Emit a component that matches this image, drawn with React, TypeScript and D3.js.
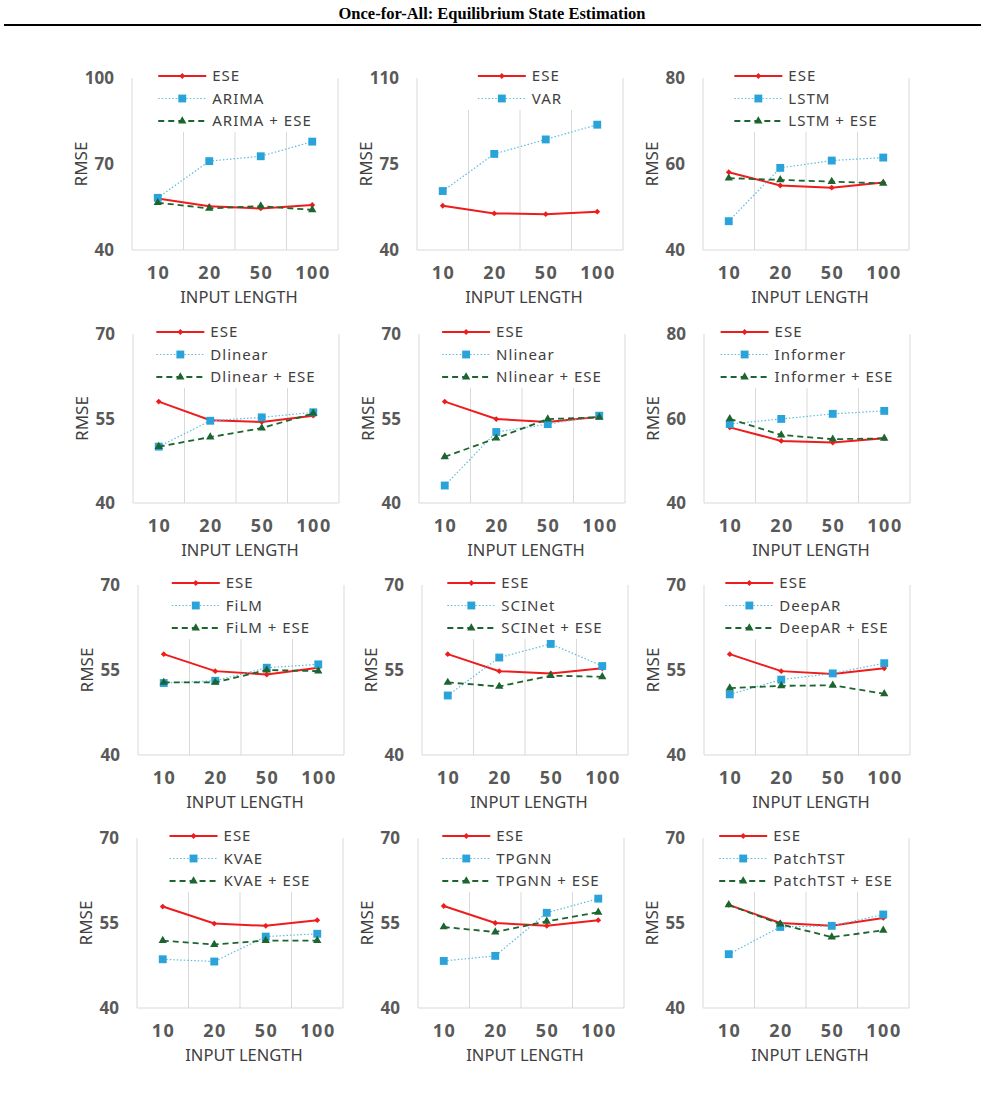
import * as d3 from "d3";

const inputLengths = ["10", "20", "50", "100"];

const baseModels = [
  "ARIMA", "VAR", "LSTM",
  "Dlinear", "Nlinear", "Informer",
  "FiLM", "SCINet", "DeepAR",
  "KVAE", "TPGNN", "PatchTST",
];

const yTickValues = [
  [40, 70, 100], [40, 75, 110], [40, 60, 80],
  [40, 55, 70], [40, 55, 70], [40, 60, 80],
  [40, 55, 70], [40, 55, 70], [40, 55, 70],
  [40, 55, 70], [40, 55, 70], [40, 55, 70],
];

// RMSE of ESE alone, per panel
const eseRmse = [
  [58.0, 55.3, 54.5, 55.7], [58.0, 54.9, 54.6, 55.6], [58.1, 55.0, 54.5, 55.7],
  [58.0, 54.7, 54.4, 55.5], [58.0, 54.9, 54.4, 55.3], [57.9, 54.7, 54.3, 55.3],
  [57.8, 54.8, 54.2, 55.4], [57.8, 54.8, 54.4, 55.3], [57.8, 54.8, 54.3, 55.3],
  [57.9, 54.9, 54.5, 55.5], [58.0, 55.0, 54.5, 55.5], [58.2, 55.0, 54.5, 55.9],
];

// RMSE of the baseline model
const baseRmse = [
  [58.2, 71.0, 72.7, 77.8], [64.0, 79.1, 85.0, 91.0], [46.7, 59.1, 60.8, 61.5],
  [50.0, 54.6, 55.2, 56.1], [43.1, 52.6, 54.0, 55.5], [58.7, 59.9, 61.1, 61.8],
  [52.7, 53.1, 55.4, 56.0], [50.5, 57.2, 59.6, 55.7], [50.7, 53.3, 54.4, 56.2],
  [48.6, 48.2, 52.6, 53.1], [48.3, 49.2, 56.8, 59.3], [49.5, 54.3, 54.5, 56.5],
];

// RMSE of baseline + ESE (none for VAR)
const comboRmse: (number[] | null)[] = [
  [56.5, 54.5, 55.3, 54.0], null, [56.7, 56.3, 55.9, 55.5],
  [50.0, 51.7, 53.3, 55.9], [48.2, 51.5, 54.9, 55.2], [59.9, 56.1, 55.1, 55.3],
  [52.8, 52.8, 55.0, 54.8], [52.8, 52.1, 54.0, 53.8], [51.8, 52.2, 52.3, 50.8],
  [51.9, 51.2, 51.9, 51.9], [54.3, 53.4, 55.3, 56.9], [58.2, 54.8, 52.5, 53.7],
];

const rowBands = [[78, 250], [334, 503], [585, 755], [838, 1008]];
const colLefts = [[132, 417, 703], [133, 419, 704], [138, 422, 704], [137, 418, 703]];
const plotW = 206;

const RED = "#ee1c1c";
const BLUE = "#2aa3da";
const BLUE_LINE = "#5dbbe0";
const GREEN = "#1c6530";
const GRID = "#d9d9d9";
const FONT = "'Noto Sans', 'DejaVu Sans', sans-serif";

let ctx: CanvasRenderingContext2D | null = null;
function textWidth(s: string, font: string, ls: number) {
  if (!ctx) ctx = document.createElement("canvas").getContext("2d");
  if (!ctx) return s.length * 8;
  ctx.font = font;
  return ctx.measureText(s).width + ls * s.length;
}

const styles = {
  ese: { color: RED, width: 2, dash: null, sym: d3.symbolDiamond2, size: 22 },
  base: { color: BLUE_LINE, width: 1.2, dash: "1.5 2", sym: d3.symbolSquare, size: 62 },
  combo: { color: GREEN, width: 1.8, dash: "6 4", sym: d3.symbolTriangle, size: 30 },
};
const fills = { ese: RED, base: BLUE, combo: GREEN };

function Panel({ i }: { i: number }) {
  const r = Math.floor(i / 3);
  const c = i % 3;
  const [top, bottom] = rowBands[r];
  const left = colLefts[r][c];
  const right = left + plotW;
  const ticks = yTickValues[i];

  const x = d3.scaleBand().domain(inputLengths).range([left, right]);
  const y = d3.scaleLinear().domain([ticks[0], ticks[ticks.length - 1]]).range([bottom, top]);
  const cx = (k: number) => (x(inputLengths[k]) as number) + x.bandwidth() / 2;
  const line = d3.line<number>().x((_, k) => cx(k)).y((v) => y(v));

  const series: { name: string; values: number[]; kind: "ese" | "base" | "combo" }[] = [
    { name: "ESE", values: eseRmse[i], kind: "ese" },
    { name: baseModels[i], values: baseRmse[i], kind: "base" },
  ];
  const combo = comboRmse[i];
  if (combo) series.push({ name: baseModels[i] + " + ESE", values: combo, kind: "combo" });

  const legendFont = `15px ${FONT}`;
  const maxText = d3.max(series, (s) => textWidth(s.name, legendFont, 1)) as number;
  const blockW = 48 + 6 + maxText;
  const lx = left + (plotW - blockW) / 2;
  const gridTop = top + 22 * series.length - 12;

  return (
    <g>
      {/* outer frame lines */}
      <line x1={left} x2={left} y1={top} y2={bottom} stroke={GRID} />
      <line x1={right} x2={right} y1={top} y2={bottom} stroke={GRID} />
      {inputLengths.slice(1).map((d) => (
        <line key={d} x1={x(d)} x2={x(d)} y1={gridTop} y2={bottom} stroke={GRID} />
      ))}
      <line x1={left} x2={right} y1={bottom} y2={bottom} stroke={GRID} />

      {ticks.map((t) => (
        <text key={t} x={left - 18} y={y(t)} dy="0.36em" textAnchor="end"
          fontSize={17} fontWeight="bold" fill="#595959" fontFamily={FONT}>{t}</text>
      ))}
      {inputLengths.map((d, k) => (
        <text key={d} x={cx(k) + 0.8} y={bottom + 29} textAnchor="middle"
          fontSize={18} fontWeight="bold" fill="#595959" fontFamily={FONT}
          style={{ letterSpacing: "1.6px" }}>{d}</text>
      ))}
      <text x={(left + right) / 2 + 4} y={bottom + 53} textAnchor="middle"
        fontSize={16.5} fill="#404040" fontFamily={FONT}>INPUT LENGTH</text>
      <text transform={`translate(${left - 51},${(top + bottom) / 2}) rotate(-90)`}
        textAnchor="middle" dy="0.36em" fontSize={17} fill="#404040" fontFamily={FONT}>RMSE</text>

      {series.map((s) => {
        const st = styles[s.kind];
        return (
          <g key={s.kind}>
            <path d={line(s.values) as string} fill="none" stroke={st.color}
              strokeWidth={st.width} strokeDasharray={st.dash ?? undefined} />
            {s.values.map((v, k) => (
              <path key={k} transform={`translate(${cx(k)},${y(v)})`}
                d={d3.symbol(st.sym, st.size)() as string} fill={fills[s.kind]} />
            ))}
          </g>
        );
      })}

      {series.map((s, k) => {
        const st = styles[s.kind];
        const ly = top - 2 + k * 22.5;
        return (
          <g key={"lg" + s.kind}>
            <line x1={lx} x2={lx + 48} y1={ly} y2={ly} stroke={st.color}
              strokeWidth={st.width} strokeDasharray={st.dash ?? undefined} />
            <path transform={`translate(${lx + 24},${ly})`}
              d={d3.symbol(st.sym, st.size)() as string} fill={fills[s.kind]} />
            <text x={lx + 54} y={ly} dy="0.36em" fontSize={15} fill="#404040"
              fontFamily={FONT} style={{ letterSpacing: "1px" }}>{s.name}</text>
          </g>
        );
      })}
    </g>
  );
}

export default function App() {
  return (
    <svg width={985} height={1095} style={{ position: "absolute", left: 0, top: 0, background: "#fff" }}>
      <text x={492} y={19} textAnchor="middle" fontSize={16.5} fontWeight="bold"
        fontFamily="'Liberation Serif', 'Times New Roman', serif" fill="#000">
        Once-for-All: Equilibrium State Estimation
      </text>
      <line x1={4} x2={981} y1={25} y2={25} stroke="#000" strokeWidth={2} />
      {baseModels.map((_, i) => <Panel key={i} i={i} />)}
    </svg>
  );
}
